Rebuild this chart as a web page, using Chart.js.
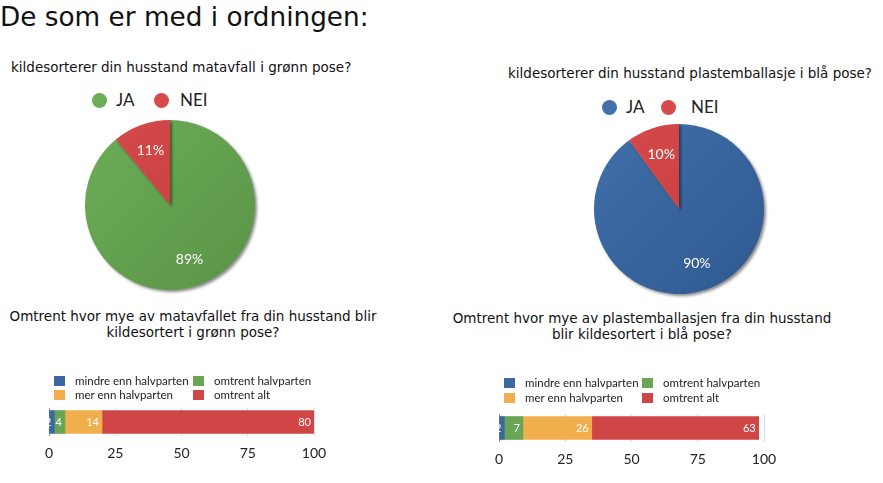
<!DOCTYPE html>
<html>
<head>
<meta charset="utf-8">
<script src="https://cdn.jsdelivr.net/npm/chart.js@4.4.1/dist/chart.umd.min.js"></script>
<style>
  html, body { margin:0; padding:0; background:#fff; }
  #page { position:relative; width:883px; height:483px; overflow:hidden; background:#fff; }
  .t { position:absolute; font-family:"DejaVu Sans", Verdana, sans-serif; color:#111; white-space:nowrap; }
  .c { text-align:center; }
  canvas { position:absolute; }
  .lg { position:absolute; font-family:Lato, "Noto Sans", sans-serif; color:#222; white-space:nowrap; }
  .dot { position:absolute; border-radius:50%; }
  .sq { position:absolute; }
</style>
</head>
<body>
<div id="page">
  <div class="t" style="left:0px; top:2px; font-size:26.3px; line-height:30px;">De som er med i ordningen:</div>
  <div class="t" style="left:11px; top:59px; font-size:13.5px; line-height:16px;">kildesorterer din husstand matavfall i grønn pose?</div>
  <div class="t" style="left:508px; top:65px; font-size:13.5px; line-height:16px;">kildesorterer din husstand plastemballasje i blå pose?</div>
  <div class="t c" style="left:0px; width:386px; top:308px; font-size:13.5px; line-height:16px;">Omtrent hvor mye av matavfallet fra din husstand blir<br>kildesortert i grønn pose?</div>
  <div class="t c" style="left:442px; width:400px; top:310px; font-size:13.5px; line-height:16px;">Omtrent hvor mye av plastemballasjen fra din husstand<br>blir kildesortert i blå pose?</div>

  <canvas id="pie1" width="180" height="180" style="left:80px; top:115px; width:180px; height:180px;"></canvas>
  <canvas id="pie2" width="180" height="180" style="left:589px; top:119px; width:180px; height:180px;"></canvas>
  <canvas id="bar1" width="330" height="70" style="left:30px; top:400px; width:330px; height:70px;"></canvas>
  <canvas id="bar2" width="330" height="70" style="left:480px; top:406px; width:330px; height:70px;"></canvas>
</div>
<script>
// ---------- DATA ----------
const pieLabels = ['JA', 'NEI'];
const pie1Values = [89, 11];
const pie2Values = [90, 10];
const barCategories = ['mindre enn halvparten', 'omtrent halvparten', 'mer enn halvparten', 'omtrent alt'];
const bar1Values = [2, 4, 14, 80];
const bar2Values = [2, 7, 26, 63];
const xTickValues = [0, 25, 50, 75, 100];

// ---------- STYLES ----------
const pie1Colors = [['#6cad57', '#5a9446'], ['#d64a4a', '#c23b3b']];
const pie2Colors = [['#4170aa', '#2f5890'], ['#d64a4a', '#c23b3b']];
const barColors = ['#3b67a3', '#68a656', '#f0ae4c', '#d04646'];

const page = document.getElementById('page');

function gradFill(pairs) {
  return function(ctx) {
    const chart = ctx.chart;
    const a = chart.chartArea;
    if (!a) return pairs[ctx.dataIndex][0];
    const g = chart.ctx.createLinearGradient(a.left, a.top, a.right, a.bottom);
    g.addColorStop(0, pairs[ctx.dataIndex][0]);
    g.addColorStop(1, pairs[ctx.dataIndex][1]);
    return g;
  };
}

const pieShadow = {
  id: 'pieShadow',
  beforeDatasetsDraw(chart) {
    const c = chart.ctx;
    c.save();
    c.shadowColor = 'rgba(0,0,0,0.45)';
    c.shadowOffsetX = 2;
    c.shadowOffsetY = 2;
    c.shadowBlur = 3;
  },
  afterDatasetsDraw(chart) {
    chart.ctx.restore();
  }
};

const pieLabelsPlugin = {
  id: 'pieLabels',
  afterDraw(chart) {
    const c = chart.ctx;
    const meta = chart.getDatasetMeta(0);
    const data = chart.data.datasets[0].data;
    c.save();
    c.fillStyle = '#ffffff';
    c.font = '14px Lato, "Noto Sans", sans-serif';
    c.textAlign = 'center';
    c.textBaseline = 'middle';
    meta.data.forEach((arc, i) => {
      const p = arc.getProps(['x', 'y', 'startAngle', 'endAngle', 'outerRadius'], true);
      const mid = (p.startAngle + p.endAngle) / 2;
      const r = p.outerRadius * 0.68;
      c.fillText(data[i] + '%', p.x + Math.cos(mid) * r, p.y + Math.sin(mid) * r);
    });
    c.restore();
  }
};

function makePie(id, values, colors) {
  return new Chart(document.getElementById(id), {
    type: 'pie',
    data: {
      labels: pieLabels,
      datasets: [{
        data: values,
        backgroundColor: gradFill(colors),
        borderWidth: 0,
        hoverOffset: 0
      }]
    },
    options: {
      responsive: false,
      animation: false,
      layout: { padding: 5 },
      plugins: { legend: { display: false }, tooltip: { enabled: false } }
    },
    plugins: [pieShadow, pieLabelsPlugin]
  });
}

const barLabelsPlugin = {
  id: 'barLabels',
  afterDatasetsDraw(chart) {
    const c = chart.ctx;
    c.save();
    c.fillStyle = '#ffffff';
    c.font = '11px Lato, "Noto Sans", sans-serif';
    c.textAlign = 'right';
    c.textBaseline = 'middle';
    chart.data.datasets.forEach((ds, i) => {
      const el = chart.getDatasetMeta(i).data[0];
      c.fillText(String(ds.data[0]), el.x - 3, el.y + 0.5);
    });
    c.restore();
  }
};

function makeBar(id, values) {
  return new Chart(document.getElementById(id), {
    type: 'bar',
    data: {
      labels: [''],
      datasets: barCategories.map((name, i) => ({
        label: name,
        data: [values[i]],
        backgroundColor: barColors[i],
        borderWidth: 0,
        barThickness: 23
      }))
    },
    options: {
      indexAxis: 'y',
      responsive: false,
      animation: false,
      layout: { padding: { left: 19, right: 46, top: 8, bottom: 6 } },
      scales: {
        x: {
          stacked: true,
          min: 0,
          max: 100,
          afterBuildTicks(scale) { scale.ticks = xTickValues.map(v => ({ value: v })); },
          grid: {
            drawTicks: false,
            color: (ctx) => (ctx.tick && ctx.tick.value === 0) ? '#9a9a9a' : '#dcdcdc',
            lineWidth: 1
          },
          border: { display: false },
          ticks: {
            padding: 9,
            color: '#222',
            font: { family: 'Lato, "Noto Sans", sans-serif', size: 14 }
          }
        },
        y: {
          stacked: true,
          display: false
        }
      },
      plugins: { legend: { display: false }, tooltip: { enabled: false } }
    },
    plugins: [barLabelsPlugin]
  });
}

function pieLegend(items, colors) {
  items.forEach((it, i) => {
    const d = document.createElement('div');
    d.className = 'dot';
    d.style.cssText = `left:${it.dx - 7.5}px; top:${it.y - 7.5}px; width:15px; height:15px; background:${colors[i][0]};`;
    page.appendChild(d);
    const t = document.createElement('div');
    t.className = 'lg';
    t.textContent = pieLabels[i];
    t.style.cssText = `left:${it.tx}px; top:${it.y - 11}px; font-size:17px; line-height:22px;`;
    page.appendChild(t);
  });
}

function barLegend(x0, x1, y0, y1) {
  barCategories.forEach((name, i) => {
    const x = (i % 2 === 0) ? x0 : x1;
    const y = (i < 2) ? y0 : y1;
    const s = document.createElement('div');
    s.className = 'sq';
    s.style.cssText = `left:${x}px; top:${y - 5}px; width:11px; height:10px; background:${barColors[i]};`;
    page.appendChild(s);
    const t = document.createElement('div');
    t.className = 'lg';
    t.textContent = name;
    t.style.cssText = `left:${x + 21}px; top:${y - 7}px; font-size:11.5px; line-height:14px;`;
    page.appendChild(t);
  });
}

makePie('pie1', pie1Values, pie1Colors);
makePie('pie2', pie2Values, pie2Colors);
makeBar('bar1', bar1Values);
makeBar('bar2', bar2Values);

pieLegend([{ dx: 99.5, tx: 116, y: 100 }, { dx: 161, tx: 180, y: 100 }], pie1Colors);
pieLegend([{ dx: 609, tx: 626, y: 107 }, { dx: 668, tx: 691, y: 107 }], pie2Colors);
barLegend(54, 193, 381, 395);
barLegend(504, 642, 383, 398);
</script>
</body>
</html>
